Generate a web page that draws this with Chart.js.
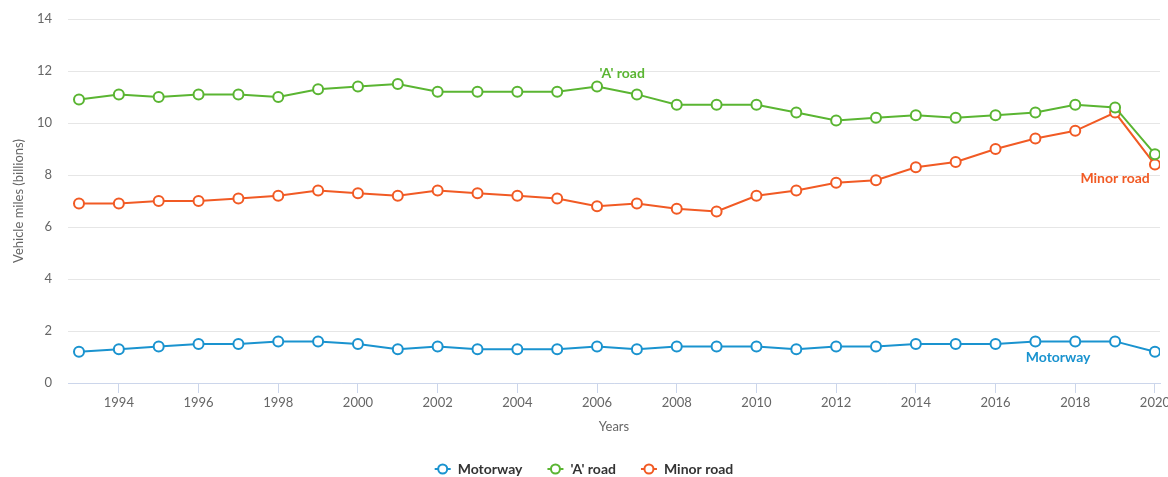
<!DOCTYPE html>
<html>
<head>
<meta charset="utf-8">
<script src="https://cdn.jsdelivr.net/npm/chart.js@4/dist/chart.umd.min.js"></script>
<style>
    html, body { margin: 0; padding: 0; background: #fff; }
    #grafico { display: block; }
</style>
</head>
<body>
<canvas id="grafico" width="1168" height="477"></canvas>
<script>
// Datos
const anios = [1993, 1994, 1995, 1996, 1997, 1998, 1999, 2000, 2001, 2002, 2003, 2004, 2005, 2006,
    2007, 2008, 2009, 2010, 2011, 2012, 2013, 2014, 2015, 2016, 2017, 2018, 2019, 2020];
const motorway = [1.2, 1.3, 1.4, 1.5, 1.5, 1.6, 1.6, 1.5, 1.3, 1.4, 1.3, 1.3, 1.3, 1.4,
    1.3, 1.4, 1.4, 1.4, 1.3, 1.4, 1.4, 1.5, 1.5, 1.5, 1.6, 1.6, 1.6, 1.2];
const aRoad = [10.9, 11.1, 11.0, 11.1, 11.1, 11.0, 11.3, 11.4, 11.5, 11.2, 11.2, 11.2, 11.2, 11.4,
    11.1, 10.7, 10.7, 10.7, 10.4, 10.1, 10.2, 10.3, 10.2, 10.3, 10.4, 10.7, 10.6, 8.8];
const minorRoad = [6.9, 6.9, 7.0, 7.0, 7.1, 7.2, 7.4, 7.3, 7.2, 7.4, 7.3, 7.2, 7.1, 6.8,
    6.9, 6.7, 6.6, 7.2, 7.4, 7.7, 7.8, 8.3, 8.5, 9.0, 9.4, 9.7, 10.4, 8.4];
const nombres = ['Motorway', "'A' road", 'Minor road'];
const ticksX = [1994, 1996, 1998, 2000, 2002, 2004, 2006, 2008, 2010, 2012, 2014, 2016, 2018, 2020];
const ticksY = [0, 2, 4, 6, 8, 10, 12, 14];

const colores = ['#1a93cf', '#5ab532', '#f15a24'];
const fuente = 'Lato, "Open Sans", sans-serif';

// etiquetas sobre las lineas (en coordenadas de datos)
const etiquetas = [
    { texto: 'Motorway', x: 2017.57, y: 1.0, serie: 0 },
    { texto: "'A' road", x: 2006.63, y: 11.92, serie: 1 },
    { texto: 'Minor road', x: 2019.0, y: 7.85, serie: 2 }
];

function serie(valores) {
    return valores.map((v, i) => ({ x: anios[i], y: v }));
}

// simbolo de leyenda: linea con circulo
function dibujaIcono(ctx, cx, cy, color) {
    ctx.strokeStyle = color;
    ctx.lineWidth = 2;
    ctx.beginPath();
    ctx.moveTo(cx - 8, cy);
    ctx.lineTo(cx + 8, cy);
    ctx.stroke();
    ctx.fillStyle = '#fff';
    ctx.beginPath();
    ctx.arc(cx, cy, 4.5, 0, Math.PI * 2);
    ctx.fill();
    ctx.stroke();
}

const pluginEtiquetas = {
    id: 'etiquetas',
    afterDatasetsDraw(chart) {
        const ctx = chart.ctx;
        const sx = chart.scales.x, sy = chart.scales.y;
        ctx.save();
        ctx.font = 'bold 14px ' + fuente;
        ctx.textAlign = 'center';
        ctx.textBaseline = 'middle';
        etiquetas.forEach(e => {
            ctx.fillStyle = colores[e.serie];
            ctx.fillText(e.texto, sx.getPixelForValue(e.x), sy.getPixelForValue(e.y));
        });
        ctx.restore();
    }
};

// leyenda propia, centrada abajo
const pluginLeyenda = {
    id: 'leyenda',
    afterDraw(chart) {
        const ctx = chart.ctx;
        const y = 469;
        const separa = 25;
        ctx.save();
        ctx.font = 'bold 14px ' + fuente;
        ctx.textBaseline = 'middle';
        ctx.textAlign = 'left';
        var anchos = nombres.map(n => 23 + ctx.measureText(n).width);
        var total = anchos.reduce((a, b) => a + b) + separa * (nombres.length - 1);
        var x = (chart.width - total) / 2;
        nombres.forEach((n, i) => {
            dibujaIcono(ctx, x + 8, y, colores[i]);
            ctx.fillStyle = '#333';
            ctx.fillText(n, x + 23, y);
            x += anchos[i] + separa;
        });
        ctx.restore();
    }
};

const datasets = [motorway, aRoad, minorRoad].map((vals, i) => ({
    label: nombres[i],
    data: serie(vals),
    borderColor: colores[i],
    backgroundColor: '#fff',
    pointBackgroundColor: '#fff',
    pointBorderColor: colores[i],
    borderWidth: 2,
    pointRadius: 5,
    pointBorderWidth: 2,
    pointHoverRadius: 5,
    tension: 0
}));

const config = {
    type: 'line',
    data: { datasets: datasets },
    options: {
        responsive: false,
        animation: false,
        layout: { padding: { top: 19, right: 8, left: 0, bottom: 42 } },
        plugins: {
            tooltip: { enabled: false },
            legend: { display: false }
        },
        scales: {
            x: {
                type: 'linear',
                min: 1992.724,
                max: 2020.127,
                afterBuildTicks(scale) {
                    scale.ticks = ticksX.map(v => ({ value: v }));
                },
                afterFit(scale) {
                    scale.height = 52;
                    scale.paddingLeft = 0;
                    scale.paddingRight = 0;
                },
                grid: {
                    drawOnChartArea: false,
                    drawTicks: true,
                    tickLength: 10,
                    color: '#ccd6eb'
                },
                border: { display: true, color: '#ccd6eb', width: 1 },
                ticks: {
                    color: '#666',
                    font: { family: fuente, size: 13 },
                    padding: 2,
                    maxRotation: 0,
                    autoSkip: false,
                    callback: v => String(v)
                },
                title: {
                    display: true,
                    text: 'Years',
                    color: '#666',
                    font: { family: fuente, size: 13 },
                    padding: { top: 6, bottom: 0 }
                }
            },
            y: {
                min: 0,
                max: 14,
                afterBuildTicks(scale) {
                    scale.ticks = ticksY.map(v => ({ value: v }));
                },
                afterFit(scale) {
                    scale.width = 68;
                    scale.paddingTop = 0;
                    scale.paddingBottom = 0;
                },
                grid: {
                    color: '#e6e6e6',
                    drawTicks: false
                },
                border: { display: false },
                ticks: {
                    color: '#666',
                    font: { family: fuente, size: 13 },
                    padding: 16
                },
                title: {
                    display: true,
                    text: 'Vehicle miles (billions)',
                    color: '#666',
                    font: { family: fuente, size: 13 },
                    padding: { top: 11, bottom: 6 }
                }
            }
        }
    },
    plugins: [pluginEtiquetas, pluginLeyenda]
};

new Chart(document.getElementById('grafico'), config);
</script>
</body>
</html>
